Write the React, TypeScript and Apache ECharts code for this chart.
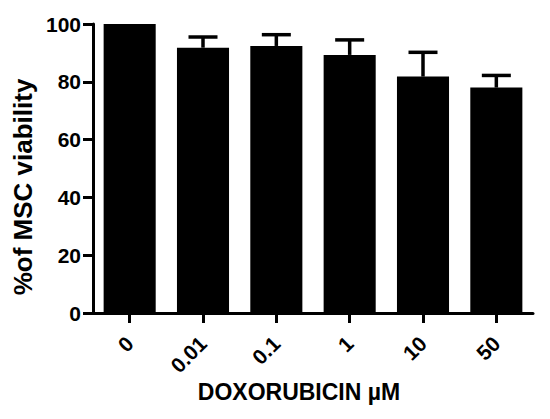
import React, { useEffect, useRef } from "react";
import * as echarts from "echarts";

const categories = ["0", "0.01", "0.1", "1", "10", "50"];
const viability = [100, 91.8, 92.4, 89.3, 81.8, 78.0];
const errorUp = [0, 3.7, 3.9, 5.2, 8.4, 4.2];
const yTicks = { min: 0, max: 100, interval: 20 };

const FONT = "Arial, 'Liberation Sans', Helvetica, sans-serif";

export default function App() {
  const ref = useRef<HTMLDivElement>(null);
  useEffect(() => {
    if (!ref.current) return;
    const chart = echarts.init(ref.current, null, { renderer: "svg" });
    const errData = categories.map((_, i) => [i, viability[i], errorUp[i]]);
    chart.setOption({
      animation: false,
      backgroundColor: "#ffffff",
      grid: { left: 93, right: 17, top: 24, bottom: 106, containLabel: false },
      xAxis: {
        type: "category",
        data: categories,
        boundaryGap: true,
        axisLine: { show: true, lineStyle: { color: "#000", width: 3 } },
        axisTick: { show: true, alignWithLabel: true, length: 10, lineStyle: { color: "#000", width: 3 } },
        axisLabel: {
          rotate: 45,
          margin: 27,
          color: "#000",
          fontSize: 21,
          fontWeight: "bold",
          fontFamily: FONT,
        },
        splitLine: { show: false },
      },
      yAxis: {
        type: "value",
        min: yTicks.min,
        max: yTicks.max,
        interval: yTicks.interval,
        axisLine: { show: true, lineStyle: { color: "#000", width: 3 } },
        axisTick: { show: true, length: 10, lineStyle: { color: "#000", width: 3 } },
        axisLabel: {
          margin: 12,
          color: "#000",
          fontSize: 21,
          fontWeight: "bold",
          fontFamily: FONT,
        },
        splitLine: { show: false },
      },
      graphic: [
        {
          type: "text",
          x: 23,
          y: 187,
          rotation: Math.PI / 2,
          style: {
            text: "%of MSC viability",
            fill: "#000",
            font: `bold 26px ${FONT}`,
            textAlign: "center",
            textVerticalAlign: "middle",
          },
        },
        {
          type: "text",
          x: 299,
          y: 392,
          style: {
            text: "DOXORUBICIN µM",
            fill: "#000",
            font: `bold 23px ${FONT}`,
            textAlign: "center",
            textVerticalAlign: "middle",
          },
        },
      ],
      series: [
        {
          type: "bar",
          data: viability,
          barWidth: "71%",
          itemStyle: { color: "#000" },
        },
        {
          type: "custom",
          data: errData,
          z: 5,
          renderItem: (params: any, api: any) => {
            const x = api.value(0);
            const m = api.value(1);
            const e = api.value(2);
            if (!e) return null;
            const base = api.coord([x, m]);
            const top = api.coord([x, m + e]);
            const half = 14.5;
            return {
              type: "group",
              children: [
                {
                  type: "line",
                  shape: { x1: base[0], y1: base[1], x2: top[0], y2: top[1] },
                  style: { stroke: "#000", lineWidth: 3.5 },
                },
                {
                  type: "line",
                  shape: { x1: top[0] - half, y1: top[1], x2: top[0] + half, y2: top[1] },
                  style: { stroke: "#000", lineWidth: 3.5 },
                },
              ],
            };
          },
        },
      ],
    });
    return () => chart.dispose();
  }, []);
  return (
    <div
      ref={ref}
      style={{ position: "absolute", left: 0, top: 0, width: 550, height: 419, background: "#fff" }}
    />
  );
}
